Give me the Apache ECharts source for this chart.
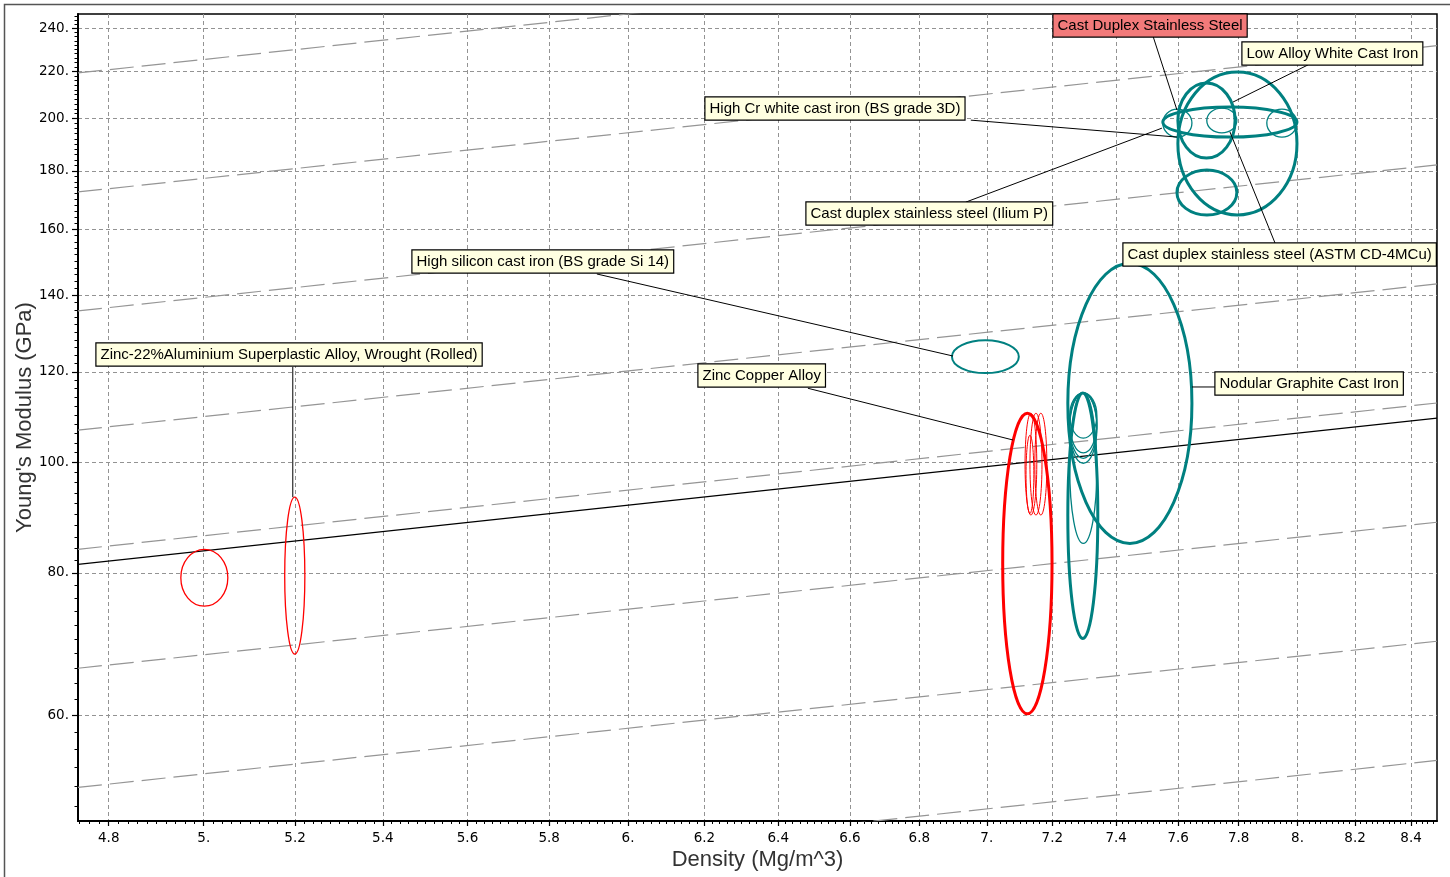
<!DOCTYPE html>
<html><head><meta charset="utf-8">
<script src="https://cdn.jsdelivr.net/npm/echarts@6/dist/echarts.min.js"></script>
<style>html,body{margin:0;padding:0;background:#fff}#c{width:1450px;height:877px}</style>
</head><body><div id="c"></div><script>
// ---------- axis data ----------
const densityRange = [4.737, 8.494];
const modulusRange = [48.5, 247.0];
const densityTicks = [4.8,5.0,5.2,5.4,5.6,5.8,6.0,6.2,6.4,6.6,6.8,7.0,7.2,7.4,7.6,7.8,8.0,8.2,8.4];
const densityTickLabels = ['4.8','5.','5.2','5.4','5.6','5.8','6.','6.2','6.4','6.6','6.8','7.','7.2','7.4','7.6','7.8','8.','8.2','8.4'];
const modulusTicks = [60,80,100,120,140,160,180,200,220,240];
const modulusTickLabels = ['60.','80.','100.','120.','140.','160.','180.','200.','220.','240.'];

// ---------- material bubbles (density Mg/m^3, modulus GPa) ----------
const bubbleNames = [
  'Zinc alloy', 'Zinc-22%Aluminium Superplastic Alloy, Wrought (Rolled)', 'Zinc Copper Alloy',
  'Zinc copper alloy A', 'Zinc copper alloy B', 'Zinc copper alloy C', 'Zinc copper alloy D',
  'High silicon cast iron (BS grade Si 14)', 'Nodular Graphite Cast Iron', 'Nodular graphite cast iron (ferritic)',
  'Nodular iron 1', 'Nodular iron 2', 'Nodular iron 3', 'Nodular iron 4', 'Nodular iron 5',
  'Low Alloy White Cast Iron', 'High Cr white cast iron', 'Ni-hard white cast iron', 'Cast Duplex Stainless Steel',
  'Cast duplex stainless steel (Ilium P)', 'Cast duplex stainless steel (ASTM CD-4MCu)', 'Cast duplex stainless steel (other)'
];
const bubbleFamily = ['zinc','zinc','zinc','zinc','zinc','zinc','zinc',
  'iron','iron','iron','iron','iron','iron','iron','iron','iron','iron','iron','iron','iron','iron','iron'];
const bubbleLevel = ['record','record','group','sub','sub','sub','sub',
  'record','group','group','sub','sub','sub','sub','sub','group','group','group','group','sub','sub','sub'];
const densityLow  = [4.951,5.177,7.048,7.116,7.131,7.146,7.119, 6.896,7.248,7.248,7.254,7.254,7.254,7.254,7.254, 7.599,7.599,7.596,7.550,7.550,7.694,7.895];
const densityHigh = [5.052,5.222,7.199,7.152,7.168,7.183,7.143, 7.097,7.645,7.342,7.339,7.339,7.339,7.339,7.339, 7.998,7.788,7.794,7.998,7.645,7.794,7.998];
const modulusLow  = [74.8,67.9,60.2,89.9,89.9,89.9,90.2, 119.7,84.9,70.1,105.0,101.9,100.8,99.8,84.9, 164.7,184.7,164.7,192.7,192.7,194.3,192.7];
const modulusHigh = [83.9,93.2,110.4,110.4,110.4,110.4,105.6, 127.9,149.4,115.0,115.0,115.0,115.0,115.0,115.0, 219.7,214.9,180.3,204.7,203.9,204.3,203.9];

// ---------- guide lines (modulus at left and right density limits) ----------
const guideModulusLeft  = [219.3,172.5,135.7,106.7,83.9,66.0,51.9,40.8];
const guideModulusRight = [294.4,231.7,182.2,143.3,112.7,88.6,69.7,54.8];
const selectionModulus  = [81.4,109.3];

// ---------- annotation texts ----------
const annotationTexts = [
  'Cast Duplex Stainless Steel', 'Low Alloy White Cast Iron', 'High Cr white cast iron (BS grade 3D)',
  'Cast duplex stainless steel (Ilium P)', 'Cast duplex stainless steel (ASTM CD-4MCu)',
  'High silicon cast iron (BS grade Si 14)', 'Zinc-22%Aluminium Superplastic Alloy, Wrought (Rolled)',
  'Zinc Copper Alloy', 'Nodular Graphite Cast Iron'
];

// ---------- layout of annotations (in axis coordinates) ----------
const annotationLayout = [
  {box:[7.202,247.0], from:[7.518,236.3], to:[7.596,203.5], bg:'#F27A7A'},
  {box:[7.811,233.4], from:[8.036,222.9], to:[7.781,206.8], bg:'#FFFFE1'},
  {box:[6.201,208.9], from:[6.952,199.4], to:[7.596,192.7], bg:'#FFFFE1'},
  {box:[6.476,169.0], from:[6.937,169.0], to:[7.547,196.2], bg:'#FFFFE1'},
  {box:[7.421,155.6], from:[7.923,155.6], to:[7.771,194.7], bg:'#FFFFE1'},
  {box:[5.468,153.4], from:[5.920,146.2], to:[6.899,123.9], bg:'#FFFFE1'},
  {box:[4.773,127.2], from:[5.195,121.2], to:[5.195,93.2], bg:'#FFFFE1'},
  {box:[6.183,121.9], from:[6.482,116.1], to:[7.079,104.6], bg:'#FFFFE1'},
  {box:[7.721,120.0], from:[7.721,116.4], to:[7.645,116.4], bg:'#FFFFE1'}
];

const FONT = '"Liberation Sans", Arial, sans-serif';
const colorOf = {zinc:'#FF0000', iron:'#008080'};
const widthOf = {zinc:{record:1.3, group:3, sub:1}, iron:{record:2, group:3, sub:1.3}};

const minorX = []; for (let k = 237; k <= 424; k++) minorX.push(Math.log(k * 0.02));
const minorY = []; for (let v = 50; v <= 246; v += 2) minorY.push(Math.log(v));
function nearestLabel(v, ticks, labels) {
  let b = 0; for (let i = 1; i < ticks.length; i++) if (Math.abs(Math.log(ticks[i]) - v) < Math.abs(Math.log(ticks[b]) - v)) b = i;
  return labels[b];
}
const lnD = densityRange.map(Math.log), lnE = modulusRange.map(Math.log);
const nameStyle = {fontFamily: FONT, fontSize: 22, color: '#333'};
const labelStyle = {fontFamily: '"DejaVu Sans", sans-serif', fontSize: 13.5, color: '#000'};

const series = [];
guideModulusLeft.forEach((m, i) => series.push({
  type:'line', xAxisIndex:0, yAxisIndex:0, symbol:'none', silent:true, z:1,
  data:[[densityRange[0], m],[densityRange[1], guideModulusRight[i]]],
  lineStyle:{color:'#959595', width:1.2, type:[24,8]}
}));
series.push({type:'line', xAxisIndex:0, yAxisIndex:0, symbol:'none', silent:true, z:2,
  data:[[densityRange[0], selectionModulus[0]],[densityRange[1], selectionModulus[1]]],
  lineStyle:{color:'#000', width:1.2}});
series.push({
  type:'custom', xAxisIndex:0, yAxisIndex:0, z:3, silent:true,
  data: bubbleNames.map((n,i) => [densityLow[i], densityHigh[i], modulusLow[i], modulusHigh[i]]),
  encode:{x:[0,1], y:[2,3]},
  renderItem:(params, api) => {
    const i = params.dataIndex;
    const p1 = api.coord([api.value(0), api.value(2)]);
    const p2 = api.coord([api.value(1), api.value(3)]);
    return {type:'ellipse', shape:{cx:(p1[0]+p2[0])/2, cy:(p1[1]+p2[1])/2, rx:Math.abs(p2[0]-p1[0])/2, ry:Math.abs(p2[1]-p1[1])/2},
      style:{fill:null, stroke:colorOf[bubbleFamily[i]], lineWidth:widthOf[bubbleFamily[i]][bubbleLevel[i]]}};
  }
});
series.push({
  type:'custom', xAxisIndex:0, yAxisIndex:0, z:5, silent:true,
  data: annotationLayout.map(a => [a.to[0], a.to[1]]),
  renderItem:(params, api) => {
    const a = annotationLayout[params.dataIndex];
    const p0 = api.coord(a.from), p1 = api.coord(a.to), b = api.coord(a.box);
    return {type:'group', children:[
      {type:'line', shape:{x1:p0[0], y1:p0[1], x2:p1[0], y2:p1[1]}, style:{stroke:'#000', lineWidth:1}},
      {type:'text', x:Math.round(b[0])+0.5, y:Math.round(b[1])+0.5, z2:10, style:{text:annotationTexts[params.dataIndex], fill:'#000',
        font:'15px ' + FONT, backgroundColor:a.bg, borderColor:'#000', borderWidth:1.2, padding:[4,4,3,4], align:'left', verticalAlign:'top'}}
    ]};
  }
});

const option = {
  animation:false,
  backgroundColor:'#fff',
  grid:{left:78, right:13, top:14, bottom:56, show:true, borderColor:'#000', borderWidth:1.5, containLabel:false, outerBoundsMode:'none'},
  xAxis:[
    {type:'log', min:densityRange[0], max:densityRange[1], position:'bottom',
     axisLine:{show:true, onZero:false, lineStyle:{color:'#000', width:2}}, axisTick:{show:false}, axisLabel:{show:false},
     splitLine:{show:false}, name:'Density (Mg/m^3)', nameLocation:'middle', nameGap:28, nameTextStyle:nameStyle},
    {type:'value', min:lnD[0], max:lnD[1], position:'bottom',
     axisLine:{show:false, onZero:false}, axisTick:{show:true, customValues:densityTicks.map(Math.log), length:5, lineStyle:{color:'#000', width:1.2}},
     axisLabel:{show:true, customValues:densityTicks.map(Math.log), margin:10, formatter:v => nearestLabel(v, densityTicks, densityTickLabels), ...labelStyle},
     splitLine:{show:true, lineStyle:{color:'#939393', width:1, type:[4,3]}}},
    {type:'value', min:lnD[0], max:lnD[1], position:'bottom',
     axisLine:{show:false, onZero:false}, axisTick:{show:true, customValues:minorX, length:3, lineStyle:{color:'#000', width:1}},
     axisLabel:{show:false}, splitLine:{show:false}}
  ],
  yAxis:[
    {type:'log', min:modulusRange[0], max:modulusRange[1], position:'left',
     axisLine:{show:true, onZero:false, lineStyle:{color:'#000', width:2}}, axisTick:{show:false}, axisLabel:{show:false},
     splitLine:{show:false}, name:"Young's Modulus (GPa)", nameLocation:'middle', nameGap:42, nameRotate:90, nameTextStyle:nameStyle},
    {type:'value', min:lnE[0], max:lnE[1], position:'left',
     axisLine:{show:false, onZero:false}, axisTick:{show:true, customValues:modulusTicks.map(Math.log), length:6, lineStyle:{color:'#000', width:1.2}},
     axisLabel:{show:true, customValues:modulusTicks.map(Math.log), margin:9, formatter:v => nearestLabel(v, modulusTicks, modulusTickLabels), ...labelStyle},
     splitLine:{show:true, lineStyle:{color:'#939393', width:1, type:[4,3]}}},
    {type:'value', min:lnE[0], max:lnE[1], position:'left',
     axisLine:{show:false, onZero:false}, axisTick:{show:true, customValues:minorY, length:3.5, lineStyle:{color:'#000', width:1}},
     axisLabel:{show:false}, splitLine:{show:false}}
  ],
  graphic:[{type:'rect', silent:true, z:100, shape:{x:4.5, y:4.5, width:1460, height:900}, style:{fill:null, stroke:'#555', lineWidth:1.5}}],
  series
};
const chart = echarts.init(document.getElementById('c'));
chart.setOption(option);
</script></body></html>
